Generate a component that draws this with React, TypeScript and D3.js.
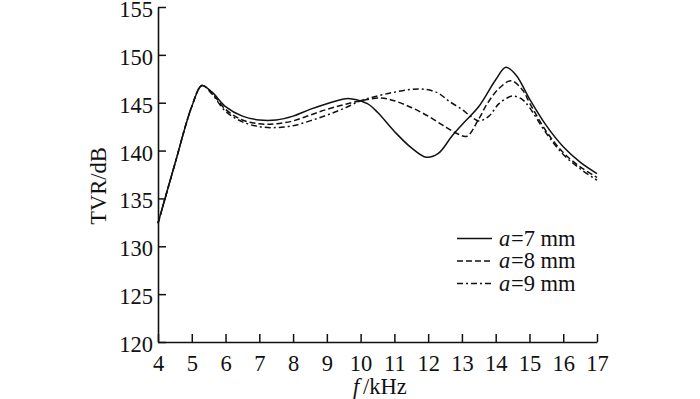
import { useEffect, useRef } from "react";
import * as d3 from "d3";

const W = 700;
const H = 399;

const xTicks = [4, 5, 6, 7, 8, 9, 10, 11, 12, 13, 14, 15, 16, 17];
const yTicks = [120, 125, 130, 135, 140, 145, 150, 155];

// frequency (kHz) / TVR (dB)
const a7f = [4, 4.5, 5, 5.3, 5.6, 6, 6.5, 7, 7.5, 8, 8.5, 9, 9.5, 9.75, 10.2, 10.5, 11, 11.5, 11.95, 12.3, 12.7, 13, 13.5, 14, 14.3, 14.6, 15, 15.5, 16, 16.5, 17];
const a7v = [132.4, 138.6, 144.6, 146.8, 146.1, 144.6, 143.6, 143.2, 143.2, 143.6, 144.3, 144.9, 145.4, 145.4, 144.9, 144.0, 142.0, 140.3, 139.3, 139.7, 141.5, 142.7, 144.6, 147.4, 148.7, 147.9, 145.4, 142.6, 140.4, 138.8, 137.6];

const a8f = [4, 4.5, 5, 5.3, 5.6, 6, 6.5, 7, 7.5, 8, 8.5, 9, 9.5, 10, 10.6, 11, 11.5, 12, 12.5, 12.9, 13.15, 13.5, 13.75, 14.1, 14.46, 14.8, 15, 15.5, 16, 16.5, 17];
const a8v = [132.4, 138.6, 144.6, 146.8, 146.0, 144.3, 143.2, 142.8, 142.8, 143.1, 143.7, 144.3, 144.8, 145.2, 145.5, 145.2, 144.5, 143.6, 142.5, 141.7, 141.5, 143.3, 144.9, 146.5, 147.3, 146.3, 145.0, 142.0, 139.8, 138.3, 137.2];

const a9f = [4, 4.5, 5, 5.3, 5.6, 6, 6.5, 7, 7.5, 8, 8.5, 9, 9.5, 10, 10.5, 11, 11.5, 11.9, 12.3, 12.6, 13, 13.25, 13.5, 13.8, 14.1, 14.5, 14.8, 15, 15.5, 16, 16.5, 17];
const a9v = [132.4, 138.6, 144.6, 146.8, 145.9, 144.1, 143.0, 142.5, 142.4, 142.6, 143.1, 143.7, 144.4, 145.2, 145.7, 146.1, 146.4, 146.4, 146.0, 145.2, 144.3, 143.6, 143.1, 143.6, 144.9, 145.7, 145.3, 144.5, 141.8, 139.6, 138.1, 136.9];

const labels = ["7", "8", "9"];
const dashes = ["none", "6,3", "6,3,2,3"];

const FONT = "'Liberation Serif', 'Times New Roman', serif";
const FS = 22.5;

export default function App() {
  const gx = useRef<SVGGElement>(null);
  const gy = useRef<SVGGElement>(null);

  const x = d3.scaleLinear().domain([4, 17]).range([158, 597]);
  const y = d3.scaleLinear().domain([120, 155]).range([342, 7]);

  useEffect(() => {
    const ax = d3.axisBottom(x).tickValues(xTicks).tickSizeInner(-8).tickSizeOuter(0).tickPadding(13).tickFormat(d3.format("d"));
    const ay = d3.axisLeft(y).tickValues(yTicks).tickSizeInner(-8).tickSizeOuter(0).tickPadding(5).tickFormat(d3.format("d"));
    const sx = d3.select(gx.current!).call(ax);
    const sy = d3.select(gy.current!).call(ay);
    for (const s of [sx, sy]) {
      s.selectAll("path").attr("stroke", "#111").attr("stroke-width", 1.6);
      s.selectAll("line").attr("stroke", "#111").attr("stroke-width", 1.5);
      s.selectAll("text").attr("font-family", FONT).attr("font-size", FS).attr("fill", "#111");
    }
    sy.selectAll("text").attr("dy", "0.42em");
  }, []);

  const line = d3
    .line<[number, number]>()
    .x((d) => x(d[0]))
    .y((d) => y(d[1]))
    .curve(d3.curveCatmullRom.alpha(0.5));

  const series = [
    d3.zip(a7f, a7v) as [number, number][],
    d3.zip(a8f, a8v) as [number, number][],
    d3.zip(a9f, a9v) as [number, number][],
  ];

  return (
    <svg width={W} height={H} style={{ position: "absolute", left: 0, top: 0, background: "#fff" }}>
      <rect width={W} height={H} fill="#fff" />
      {series.map((s, i) => (
        <path key={i} d={line(s) ?? ""} fill="none" stroke="#111" strokeWidth={1.5} strokeDasharray={dashes[i]} />
      ))}
      <g ref={gx} transform={`translate(0,${y(120)})`} />
      <g ref={gy} transform={`translate(${x(4)},0)`} />
      <text transform="translate(106,186) rotate(-90)" textAnchor="middle" fontFamily={FONT} fontSize={FS} fill="#111">
        TVR/dB
      </text>
      <text x={353} y={394} fontFamily={FONT} fontSize={FS} fontStyle="italic" fill="#111">
        f
      </text>
      <text x={363} y={394} fontFamily={FONT} fontSize={FS} fill="#111">
        /kHz
      </text>
      {labels.map((l, i) => (
        <g key={l} transform={`translate(0,${238.5 + i * 22.5})`}>
          <line x1={457} x2={492} y1={0} y2={0} stroke="#111" strokeWidth={1.5} strokeDasharray={dashes[i]} />
          <text x={499} y={7} fontFamily={FONT} fontSize={FS} fontStyle="italic" fill="#111">
            a
          </text>
          <text x={511} y={7} fontFamily={FONT} fontSize={FS} fill="#111">
            {`=${l} mm`}
          </text>
        </g>
      ))}
    </svg>
  );
}
